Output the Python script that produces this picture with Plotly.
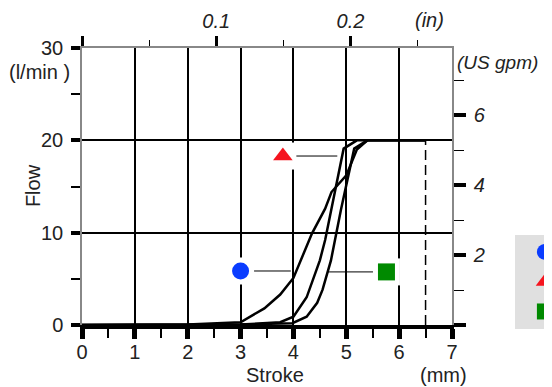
import plotly.graph_objects as go

# stroke (mm) / flow (l/min) for the three curves
stroke_a = [0, 2.0, 3.0, 3.45, 3.75, 4.0, 4.35, 4.6, 4.72, 5.0, 5.2, 5.4, 6.5]
flow_a = [0, 0.05, 0.3, 1.8, 3.3, 5.1, 9.9, 12.6, 14.4, 16.2, 19.0, 20.0, 20.0]

stroke_b = [0, 3.0, 3.75, 4.0, 4.25, 4.5, 4.6, 4.72, 4.95, 5.2, 6.5]
flow_b = [0, 0.05, 0.3, 0.9, 3.0, 7.0, 9.2, 12.5, 19.1, 20.0, 20.0]

stroke_c = [0, 3.0, 3.98, 4.25, 4.45, 4.55, 4.71, 4.9, 5.15, 5.4, 6.5]
flow_c = [0, 0.05, 0.2, 0.9, 2.4, 3.8, 7.0, 12.5, 19.1, 20.0, 20.0]

limit_x = [6.5, 6.5]
limit_y = [0, 20]

names = ["A", "B", "C"]
colors = ["#0a3cff", "#f5141e", "#008a00"]
symbols = ["circle", "triangle-up", "square"]
label_x = [3.0, 3.8, 5.76]
label_y = [5.85, 18.3, 5.75]
leader_end = [3.95, 4.83, 4.65]

x_ticks = [0, 1, 2, 3, 4, 5, 6, 7]
y_ticks = [0, 10, 20, 30]
in_ticks = [0, 0.1, 0.2]
in_text = ["", "0.1", "0.2"]
in_minor = [0.05, 0.15, 0.25]
gpm_ticks = [0, 2, 4, 6]
gpm_text = ["", "2", "4", "6"]
gpm_minor = [1, 3, 5, 7]

FONT = "Liberation Sans"
TXT = "#222"
fig = go.Figure()

# leader lines from the labels to the curves
for i in range(3):
    fig.add_trace(go.Scatter(x=[label_x[i], leader_end[i]], y=[label_y[i], label_y[i]],
                             mode="lines", line=dict(color="black", width=1),
                             showlegend=False, hoverinfo="skip"))
# white patch behind labels (breaks grid lines)
fig.add_trace(go.Scatter(x=label_x, y=label_y, mode="markers",
                         marker=dict(symbol="square", size=27, color="white"),
                         showlegend=False, hoverinfo="skip"))

for sx, fy in [(stroke_a, flow_a), (stroke_b, flow_b), (stroke_c, flow_c)]:
    fig.add_trace(go.Scatter(x=sx, y=fy, mode="lines",
                             line=dict(color="black", width=2.5),
                             showlegend=False, hoverinfo="skip"))

fig.add_trace(go.Scatter(x=limit_x, y=limit_y, mode="lines",
                         line=dict(color="black", width=1.5, dash="10px,5px"),
                         showlegend=False, hoverinfo="skip"))

for i in range(3):
    fig.add_trace(go.Scatter(x=[label_x[i]], y=[label_y[i]], mode="markers", name=names[i],
                             marker=dict(symbol=symbols[i], size=17, color=colors[i]),
                             legendgroup=names[i]))

# dummy trace so the inch / gpm axes get drawn
fig.add_trace(go.Scatter(x=in_ticks[:1], y=gpm_ticks[:1], xaxis="x2", yaxis="y2",
                         mode="markers", marker=dict(opacity=0),
                         showlegend=False, hoverinfo="skip"))

fig.update_layout(
    width=552, height=387,
    margin=dict(l=74, r=108, t=40, b=70, autoexpand=False),
    plot_bgcolor="white", paper_bgcolor="white",
    font=dict(family=FONT, size=20, color=TXT),
    legend=dict(x=1.17, y=0.325, xanchor="left", yanchor="top", bgcolor="#e0e0e0",
                font=dict(size=16), tracegroupgap=6, itemwidth=50),
    xaxis=dict(range=[0, 7], tickvals=x_ticks, showgrid=True, gridcolor="black", gridwidth=2,
               showline=True, linecolor="black", linewidth=4, zeroline=False,
               ticks="outside", ticklen=10, tickwidth=5, tickcolor="black",
               minor=dict(dtick=0.5, ticklen=9, tickwidth=2, tickcolor="black", showgrid=False),
               tickfont=dict(size=20, color=TXT), ticklabelstandoff=-4),
    yaxis=dict(range=[0, 30], tickvals=y_ticks, showgrid=True, gridcolor="black", gridwidth=2,
               showline=True, linecolor="#888", linewidth=1.5, zeroline=False,
               ticks="outside", ticklen=9, tickwidth=4, tickcolor="black",
               minor=dict(dtick=5, ticklen=9, tickwidth=1.5, tickcolor="black", showgrid=False),
               tickfont=dict(size=20, color=TXT), ticklabelstandoff=4),
    xaxis2=dict(overlaying="x", side="top", anchor="y", range=[0, 7 / 25.4],
                tickvals=in_ticks, ticktext=in_text, showgrid=False, zeroline=False,
                showline=True, linecolor="#888", linewidth=1.5,
                ticks="outside", ticklen=10, tickwidth=3, tickcolor="black",
                minor=dict(tickvals=in_minor, ticklen=6, tickwidth=1, tickcolor="black"),
                tickfont=dict(size=20, color=TXT, style="italic"), ticklabelstandoff=0),
    yaxis2=dict(overlaying="y", side="right", anchor="x", range=[0, 30 / 3.785],
                tickvals=gpm_ticks, ticktext=gpm_text, showgrid=False, zeroline=False,
                showline=True, linecolor="#888", linewidth=1.5,
                ticks="outside", ticklen=12, tickwidth=3.5, tickcolor="black",
                minor=dict(tickvals=gpm_minor, ticklen=10, tickwidth=1, tickcolor="black"),
                tickfont=dict(size=20, color=TXT, style="italic"), ticklabelstandoff=4),
)

ann = dict(xref="paper", yref="paper", showarrow=False, xanchor="center", yanchor="middle")
fig.add_annotation(text="Flow", x=-0.132, y=0.502, textangle=-90, **ann)
fig.add_annotation(text="(l/min )", x=-0.116, y=0.913, **ann)
fig.add_annotation(text="Stroke", x=0.522, y=-0.18, **ann)
fig.add_annotation(text="(mm)", x=0.978, y=-0.18, **ann)
fig.add_annotation(text="(in)", x=0.938, y=1.101, font=dict(style="italic"), **ann)
fig.add_annotation(text="(US gpm)", x=1.124, y=0.946, font=dict(size=19, style="italic"), **ann)

fig.write_html("out.html")
